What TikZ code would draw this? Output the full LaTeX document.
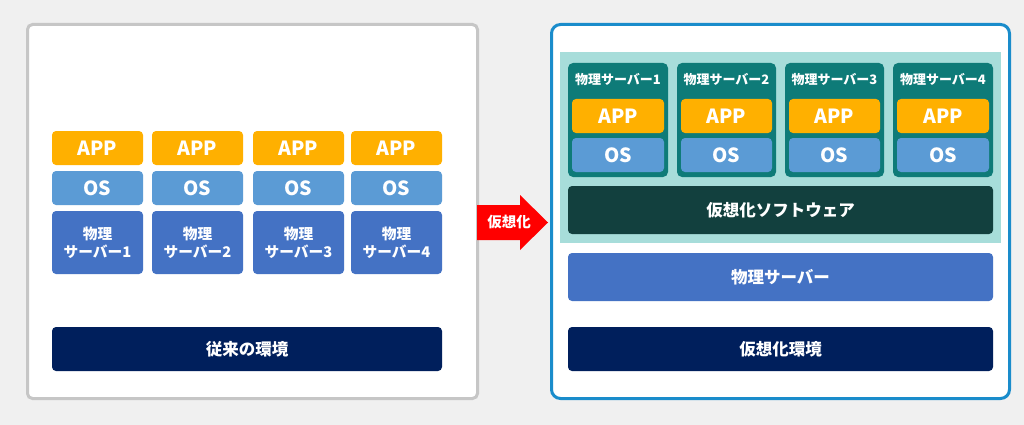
\documentclass[tikz,border=0pt]{standalone}
\usepackage{fontspec}
\setmainfont{Noto Sans CJK JP}
\definecolor{bgc}{HTML}{F0F0F0}
\definecolor{leftborder}{HTML}{C6C6C6}
\definecolor{appc}{HTML}{FFB000}
\definecolor{osc}{HTML}{5B9BD5}
\definecolor{physc}{HTML}{4472C4}
\definecolor{navyc}{HTML}{001F5C}
\definecolor{rightborder}{HTML}{1A8CCB}
\definecolor{lteal}{HTML}{A7DDDA}
\definecolor{dteal}{HTML}{0E7B78}
\definecolor{dsoft}{HTML}{12403E}
\definecolor{arrowred}{HTML}{FF0000}
\tikzset{
  blk/.style={rounded corners=4pt, inner sep=0pt, text=white, font=\bfseries, align=center},
  appbox/.style={blk, fill=appc, font=\fontsize{19.5}{22}\selectfont\bfseries},
  osbox/.style={blk, fill=osc, font=\fontsize{19.5}{22}\selectfont\bfseries},
  physbox/.style={blk, fill=physc, font=\fontsize{14.7}{18}\selectfont\bfseries},
  barbox/.style={blk, font=\fontsize{16.5}{20}\selectfont\bfseries},
  srvtitle/.style={text=white, inner sep=0pt, font=\fontsize{13}{15}\selectfont\bfseries},
}
\begin{document}
\begin{tikzpicture}[x=1pt,y=-1pt]
\fill[bgc] (0,0) rectangle (1024,425);
\useasboundingbox (0,0) rectangle (1024,425);
% left panel
\draw[leftborder, line width=3pt, fill=white, rounded corners=5pt] (27.5,24.5) rectangle (477.5,398.5);
% left columns
\foreach \i/\cx in {1/97.5, 2/197.5, 3/298.5, 4/396.5} {
  \node[appbox, minimum width=91pt, minimum height=34pt] (lapp\i) at (\cx,148) {APP};
  \node[osbox, minimum width=91pt, minimum height=34pt] (los\i) at (\cx,188) {OS};
  \node[physbox, minimum width=91pt, minimum height=63pt] (lphys\i) at (\cx,242.5) {物理\\サーバー\i};
}
\node[barbox, fill=navyc, minimum width=390pt, minimum height=44pt] (lenv) at (247,349) {従来の環境};
% arrow
\coordinate (a1) at (477,205);
\coordinate (a2) at (520,205);
\coordinate (a3) at (520,195);
\coordinate (a4) at (548,222.5);
\coordinate (a5) at (520,250);
\coordinate (a6) at (520,240);
\coordinate (a7) at (477,240);
\fill[arrowred] (a1) -- (a2) -- (a3) -- (a4) -- (a5) -- (a6) -- (a7) -- cycle;
\node[text=white, inner sep=0pt, font=\fontsize{14.5}{16}\selectfont\bfseries] (arrtxt) at (509,222.5) {仮想化};
% right panel
\draw[rightborder, line width=3pt, fill=white, rounded corners=9pt] (551.5,24.5) rectangle (1009.5,398.5);
\fill[lteal] (560,52) rectangle (1001,243);
\foreach \i/\xa/\xb in {1/568/668, 2/677/776, 3/785/884, 4/893/993} {
  \fill[dteal, rounded corners=5pt] (\xa,63) rectangle (\xb,177);
  \node[srvtitle] (rt\i) at ({(\xa+\xb)/2},80) {物理サーバー\i};
  \node[appbox, minimum width={\xb-\xa-8}, minimum height=34pt] (rapp\i) at ({(\xa+\xb)/2},116) {APP};
  \node[osbox, minimum width={\xb-\xa-8}, minimum height=34pt] (ros\i) at ({(\xa+\xb)/2},155) {OS};
}
\node[barbox, fill=dsoft, minimum width=425pt, minimum height=48pt] (soft) at (780.5,210) {仮想化ソフトウェア};
\node[barbox, fill=physc, minimum width=425pt, minimum height=48pt] (rphys) at (780.5,277) {物理サーバー};
\node[barbox, fill=navyc, minimum width=425pt, minimum height=44pt] (renv) at (780.5,349) {仮想化環境};
\end{tikzpicture}
\end{document}
